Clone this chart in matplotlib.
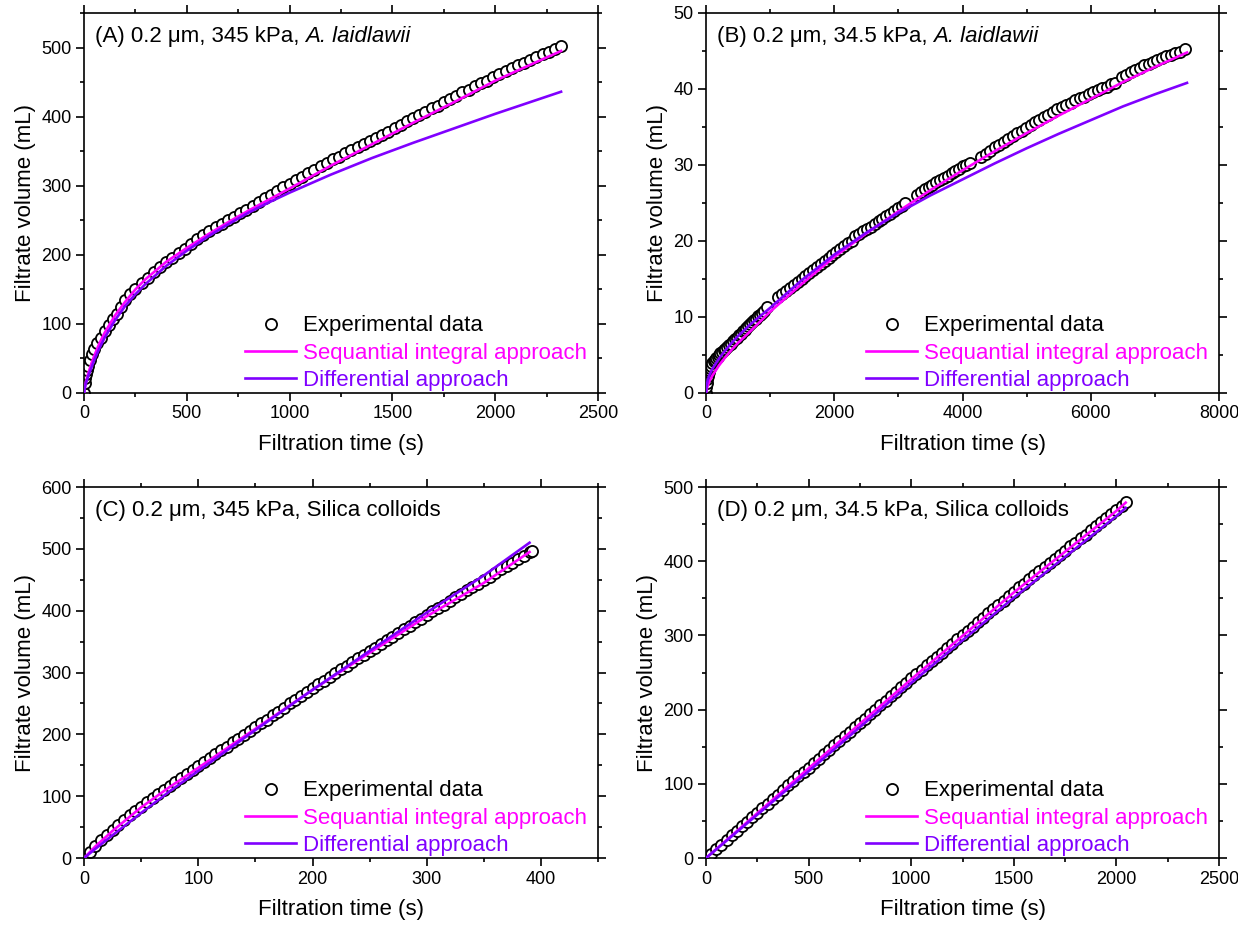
import matplotlib
matplotlib.use('Agg')
import matplotlib.pyplot as plt
from matplotlib.ticker import MultipleLocator
from matplotlib.lines import Line2D

plt.rcParams['font.family'] = ['Liberation Sans', 'DejaVu Sans']
plt.rcParams['axes.linewidth'] = 1.2

SEQ_COLOR = '#FF00FF'
DIF_COLOR = '#8000FF'

# ---------------- (A) 0.2 um, 345 kPa, A. laidlawii ----------------
a_t_exp = [0, 3, 6, 10, 15, 20, 30, 40, 50, 65, 80, 100, 120, 140, 160, 180, 200, 225, 250,
           280, 310, 340, 370, 400, 430, 460, 490, 520, 550, 580,
           610, 640, 670, 700, 730, 760, 790, 820, 850, 880, 910, 940, 970, 1000,
           1030, 1060, 1090, 1120, 1150, 1180, 1210, 1240, 1270, 1300,
           1330, 1360, 1390, 1420, 1450, 1480,
           1510, 1540, 1570, 1600, 1630, 1660, 1690, 1720, 1750,
           1780, 1810, 1840, 1870, 1900, 1930, 1960, 1990, 2020,
           2050, 2080, 2110, 2140, 2170, 2200, 2230, 2260, 2290, 2320]
a_v_exp = [0, 15, 21, 28, 34, 39, 48, 56, 63, 72, 80, 90, 99, 107, 115, 124, 134, 143, 151,
           159, 167, 175, 182, 189, 196, 203, 209, 216, 223, 229,
           234, 240, 245, 250, 255, 260, 265, 271, 276, 282, 287, 293, 298, 303,
           308, 313, 318, 323, 328, 333, 338, 342, 347, 351,
           356, 360, 365, 369, 374, 378,
           383, 388, 393, 398, 402, 407, 412, 416, 421,
           425, 430, 435, 439, 444, 448, 452, 457, 461,
           466, 470, 474, 478, 482, 486, 490, 494, 498, 502]
a_t_seq = [0, 5, 10, 20, 35, 50, 75, 100, 150, 200, 250, 300, 400, 500, 600, 700, 800, 900,
           1000, 1200, 1400, 1600, 1800, 2000, 2200, 2320]
a_v_seq = [0, 10, 17, 28, 42, 54, 72, 87, 112, 132, 150, 165, 190, 210, 229, 247, 264, 280,
           296, 329, 360, 391, 421, 452, 479, 495]
a_t_dif = [0, 5, 10, 20, 35, 50, 75, 100, 150, 200, 250, 300, 400, 500, 600, 700, 800, 900,
           1000, 1200, 1400, 1600, 1800, 2000, 2200, 2320]
a_v_dif = [0, 9, 15, 24, 36, 48, 65, 80, 105, 126, 143, 158, 184, 206, 226, 244, 261, 276,
           290, 316, 340, 362, 383, 404, 424, 436]

# ---------------- (B) 0.2 um, 34.5 kPa, A. laidlawii ----------------
b_t_exp = [0, 5, 10, 20, 30, 40, 50, 65, 80, 100, 120, 140, 160, 180, 200, 225, 250, 275, 300, 330,
           360, 390, 420, 450, 480, 510, 540, 570, 600, 630, 660, 690, 720, 750, 780, 810, 840, 870, 900, 950,
           1130, 1190, 1250, 1310, 1370, 1430, 1490, 1550, 1610, 1670, 1730, 1790, 1850, 1910, 1970,
           2030, 2090, 2150, 2210, 2270, 2330, 2390, 2450, 2510, 2570, 2630, 2690, 2750, 2810, 2870,
           2930, 2990, 3050, 3110,
           3290, 3350, 3410, 3470, 3530, 3590, 3650, 3710, 3770, 3830, 3890, 3950, 4010, 4060, 4110,
           4290, 4360, 4430, 4500, 4570, 4640, 4710, 4780, 4850, 4920, 4990, 5060, 5130, 5200, 5270,
           5340, 5410, 5480, 5550, 5620, 5690, 5760, 5830, 5900, 5970, 6040, 6110, 6180, 6250, 6320, 6380,
           6480, 6550, 6620, 6690, 6760, 6830, 6900, 6970, 7040, 7110, 7180, 7250, 7320, 7390, 7470]
b_v_exp = [0, 0.8, 1.3, 1.9, 2.3, 2.7, 3.0, 3.3, 3.6, 3.9, 4.2, 4.4, 4.6, 4.8, 5.0, 5.2, 5.4, 5.6, 5.8, 6.0,
           6.3, 6.5, 6.8, 7.1, 7.3, 7.6, 7.8, 8.1, 8.3, 8.6, 8.8, 9.1, 9.3, 9.6, 9.8, 10.1, 10.3, 10.5, 10.8, 11.3,
           12.6, 13.0, 13.4, 13.8, 14.2, 14.6, 15.0, 15.4, 15.8, 16.2, 16.6, 17.0, 17.4, 17.8, 18.2,
           18.6, 19.0, 19.3, 19.7, 20.0, 20.6, 20.9, 21.3, 21.6, 21.9, 22.3, 22.6, 22.9, 23.3, 23.6,
           23.9, 24.3, 24.6, 25.0,
           26.1, 26.4, 26.8, 27.1, 27.4, 27.7, 28.0, 28.3, 28.6, 28.9, 29.2, 29.5, 29.8, 30.0, 30.3,
           31.1, 31.5, 31.9, 32.3, 32.6, 33.0, 33.4, 33.8, 34.2, 34.5, 34.9, 35.2, 35.6, 35.9, 36.3,
           36.6, 37.0, 37.3, 37.6, 37.9, 38.2, 38.5, 38.8, 39.0, 39.3, 39.6, 39.8, 40.1, 40.3, 40.6, 40.8,
           41.6, 41.9, 42.2, 42.5, 42.8, 43.1, 43.3, 43.6, 43.8, 44.1, 44.3, 44.5, 44.7, 44.9, 45.2]
b_t_seq = [0, 20, 50, 100, 200, 300, 400, 500, 700, 1000, 1500, 2000, 2500, 3000, 3500,
           4000, 4500, 5000, 5500, 6000, 6500, 7000, 7500]
b_v_seq = [0, 0.8, 1.5, 2.3, 3.6, 4.7, 5.7, 6.6, 8.2, 10.7, 14.4, 17.9, 21.0, 23.9, 26.7,
           29.3, 31.8, 34.2, 36.5, 38.7, 40.9, 42.9, 44.8]
b_t_dif = [0, 10, 25, 50, 100, 200, 300, 400, 500, 700, 1000, 1500, 2000, 2500, 3000, 3500,
           4000, 4500, 5000, 5500, 6000, 6500, 7000, 7500]
b_v_dif = [0, 1.0, 1.6, 2.3, 3.2, 4.5, 5.6, 6.6, 7.5, 9.1, 11.2, 14.9, 18.2, 21.1, 23.7, 26.0,
           28.1, 30.2, 32.2, 34.1, 35.9, 37.7, 39.3, 40.8]

# ---------------- (C) 0.2 um, 345 kPa, Silica colloids ----------------
c_t_exp = [0, 5, 10, 15, 20, 25, 30, 35, 40, 45, 50, 55, 60, 65, 70, 75, 80, 85, 90, 95,
           100, 105, 110, 115, 120, 125, 130, 135, 140, 145, 150, 155, 160, 165, 170, 175, 180, 185, 190, 195,
           200, 205, 210, 215, 220, 225, 230, 235, 240, 245, 250, 255, 260, 265, 270, 275, 280, 285, 290, 295,
           300, 305, 310, 315, 320, 325, 330, 335, 340, 345, 350, 355, 360, 365, 370, 375, 380, 385, 390, 392]
c_v_exp = [0, 10, 20, 29, 38, 46, 54, 62, 69, 76, 83, 90, 97, 104, 110, 117, 123, 130, 136, 143,
           149, 155, 162, 168, 174, 180, 187, 193, 199, 205, 212, 218, 224, 231, 237, 243, 250, 256, 262, 268,
           275, 281, 287, 293, 299, 305, 311, 317, 323, 329, 335, 340, 346, 352, 358, 364, 370, 376, 381, 387,
           393, 399, 404, 410, 416, 422, 427, 433, 439, 444, 450, 455, 461, 467, 472, 478, 484, 489, 495, 497]
c_t_seq = [0, 10, 25, 50, 75, 100, 150, 200, 250, 300, 350, 390]
c_v_seq = [0, 19, 44, 82, 115, 146, 209, 272, 332, 391, 445, 495]
c_t_dif = [0, 10, 25, 50, 75, 100, 150, 200, 250, 300, 350, 390]
c_v_dif = [0, 15, 37, 73, 108, 141, 207, 272, 335, 397, 457, 510]

# ---------------- (D) 0.2 um, 34.5 kPa, Silica colloids ----------------
d_t_exp = [0, 25, 50, 75, 100, 125, 150, 175, 200, 225, 250, 275, 300, 325, 350, 375, 400, 425, 450, 475,
           500, 525, 550, 575, 600, 625, 650, 675, 700, 725, 750, 775, 800, 825, 850, 875, 900, 925, 950, 975,
           1000, 1025, 1050, 1075, 1100, 1125, 1150, 1175, 1200, 1225, 1250, 1275, 1300, 1325, 1350, 1375,
           1400, 1425, 1450, 1475, 1500, 1525, 1550, 1575, 1600, 1625, 1650, 1675, 1700, 1725, 1750, 1775,
           1800, 1825, 1850, 1875, 1900, 1925, 1950, 1975, 2000, 2025, 2045]
d_v_exp = [0, 6, 12, 18, 24, 31, 37, 43, 49, 55, 61, 67, 73, 79, 85, 92, 98, 104, 110, 116,
           122, 128, 134, 140, 146, 152, 158, 164, 170, 176, 182, 188, 194, 200, 206, 212, 218, 224, 230, 236,
           242, 248, 254, 260, 265, 271, 277, 283, 289, 295, 301, 306, 312, 318, 324, 330,
           336, 341, 347, 353, 359, 365, 370, 376, 381, 387, 392, 398, 403, 409, 414, 420,
           425, 431, 436, 442, 447, 453, 458, 464, 469, 475, 480]
d_t_seq = [0, 500, 1000, 1500, 2000, 2045]
d_v_seq = [0, 121, 241, 358, 468, 479]
d_t_dif = [0, 500, 1000, 1500, 2000, 2045]
d_v_dif = [0, 117, 236, 351, 461, 472]

legend_labels = ['Experimental data', 'Sequantial integral approach', 'Differential approach']


def draw_panel(ax, t_exp, v_exp, t_seq, v_seq, t_dif, v_dif, xlim, ylim, xstep, ystep,
               title, title_italic=None):
    ax.plot(t_exp, v_exp, 'o', ms=8, mfc='white', mec='black', mew=1.3, zorder=2)
    ax.plot(t_seq, v_seq, color=SEQ_COLOR, lw=1.9, zorder=3)
    ax.plot(t_dif, v_dif, color=DIF_COLOR, lw=1.9, zorder=3)

    ax.set_xlim(xlim)
    ax.set_ylim(ylim)
    ax.xaxis.set_major_locator(MultipleLocator(xstep))
    ax.xaxis.set_minor_locator(MultipleLocator(xstep / 2))
    ax.yaxis.set_major_locator(MultipleLocator(ystep))
    ax.yaxis.set_minor_locator(MultipleLocator(ystep / 2))
    ax.tick_params(which='both', direction='out', top=True, right=True, width=1.2)
    ax.tick_params(which='major', length=5.5, labelsize=13)
    ax.tick_params(which='minor', length=3)

    ax.set_xlabel('Filtration time (s)', fontsize=16, labelpad=8)
    ax.set_ylabel('Filtrate volume (mL)', fontsize=16)
    t1 = ax.text(0.021, 0.965, title, transform=ax.transAxes, fontsize=16, va='top', ha='left')
    if title_italic:
        # italic species name continues right after the plain part, one space apart
        ax.annotate(title_italic, xy=(1, 0), xycoords=t1, xytext=(4.5, 0),
                    textcoords='offset points', fontsize=16,
                    fontstyle='italic', va='bottom', ha='left')

    handles = [Line2D([], [], ls='none', marker='o', ms=8, mfc='white', mec='black', mew=1.3),
               Line2D([], [], color=SEQ_COLOR, lw=1.9),
               Line2D([], [], color=DIF_COLOR, lw=1.9)]
    ax.legend(handles, legend_labels, loc='lower right', bbox_to_anchor=(0.983, 0.0),
              frameon=False, fontsize=16,
              handlelength=2.3, handletextpad=0.3, labelspacing=0.28,
              borderaxespad=0.0, borderpad=0.1,
              labelcolor=['black', SEQ_COLOR, DIF_COLOR])


fig = plt.figure(figsize=(12.38, 9.26), dpi=100)
ax_a = fig.add_axes([0.0679, 0.5756, 0.4152, 0.4104])
ax_b = fig.add_axes([0.5703, 0.5756, 0.4144, 0.4104])
ax_c = fig.add_axes([0.0679, 0.0734, 0.4152, 0.4006])
ax_d = fig.add_axes([0.5703, 0.0734, 0.4144, 0.4006])

draw_panel(ax_a, a_t_exp, a_v_exp, a_t_seq, a_v_seq, a_t_dif, a_v_dif,
           (0, 2500), (0, 550), 500, 100,
           '(A) 0.2 μm, 345 kPa,', 'A. laidlawii')
draw_panel(ax_b, b_t_exp, b_v_exp, b_t_seq, b_v_seq, b_t_dif, b_v_dif,
           (0, 8000), (0, 50), 2000, 10,
           '(B) 0.2 μm, 34.5 kPa,', 'A. laidlawii')
draw_panel(ax_c, c_t_exp, c_v_exp, c_t_seq, c_v_seq, c_t_dif, c_v_dif,
           (0, 450), (0, 600), 100, 100,
           '(C) 0.2 μm, 345 kPa, Silica colloids')
draw_panel(ax_d, d_t_exp, d_v_exp, d_t_seq, d_v_seq, d_t_dif, d_v_dif,
           (0, 2500), (0, 500), 500, 100,
           '(D) 0.2 μm, 34.5 kPa, Silica colloids')

fig.savefig('out.png', dpi=100)
